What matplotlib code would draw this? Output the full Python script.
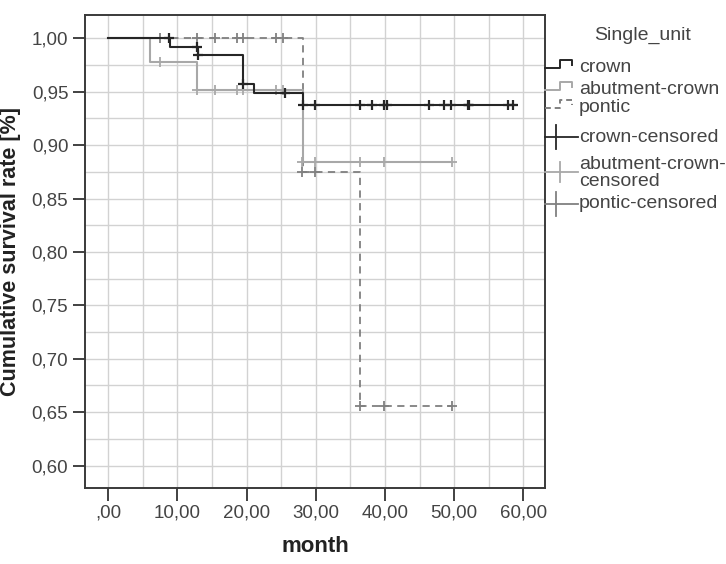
import matplotlib
matplotlib.use("Agg")
import matplotlib.pyplot as plt
from matplotlib.lines import Line2D
import numpy as np

plt.rcParams['font.family'] = ['Liberation Sans', 'DejaVu Sans']

# ---- data ----
crown_t = [0, 8.9, 12.9, 19.5, 21.1, 28.2, 59.0]
crown_s = [1.00, 0.992, 0.984, 0.957, 0.9485, 0.9375, 0.9375]
crown_cens_t = [8.8, 12.8, 13.0, 19.5, 25.5,
                28.1, 29.9, 36.4, 38.1, 39.9, 40.3, 46.4, 48.5, 49.6, 52.0, 52.2, 57.8, 58.5]
crown_cens_s = [1.00, 0.992, 0.984, 0.957, 0.9485,
                0.9375, 0.9375, 0.9375, 0.9375, 0.9375, 0.9375, 0.9375, 0.9375, 0.9375,
                0.9375, 0.9375, 0.9375, 0.9375]

abut_t = [0, 6.05, 12.8, 28.2, 49.7]
abut_s = [1.00, 0.978, 0.952, 0.884, 0.884]
abut_cens_t = [7.5, 12.8, 15.4, 18.6, 19.5, 24.2, 25.3, 28.0, 29.9, 36.4, 39.9, 49.7]
abut_cens_s = [0.978, 0.952, 0.952, 0.952, 0.952, 0.952, 0.952, 0.884, 0.884, 0.884, 0.884, 0.884]

pontic_t = [0, 28.2, 36.4, 49.7]
pontic_s = [1.00, 0.875, 0.656, 0.656]
pontic_cens_t = [7.5, 12.8, 15.4, 18.6, 19.5, 24.2, 25.3, 28.0, 29.9, 36.4, 39.8, 49.7]
pontic_cens_s = [1.00, 1.00, 1.00, 1.00, 1.00, 1.00, 1.00, 0.875, 0.875, 0.656, 0.656, 0.656]

x_ticks = [0, 10, 20, 30, 40, 50, 60]
x_labels = [',00', '10,00', '20,00', '30,00', '40,00', '50,00', '60,00']
y_ticks = [0.60, 0.65, 0.70, 0.75, 0.80, 0.85, 0.90, 0.95, 1.00]
y_labels = ['0,60', '0,65', '0,70', '0,75', '0,80', '0,85', '0,90', '0,95', '1,00']

legend_title = 'Single_unit'
legend_labels = ['crown', 'abutment-crown', 'pontic', 'crown-censored',
                 'abutment-crown-\ncensored', 'pontic-censored']

c_crown = '#262626'
c_abut = '#a8a8a8'
c_pont = '#808080'

W, H = 726, 564
fig = plt.figure(figsize=(W / 100, H / 100), dpi=100)
ax = fig.add_axes([85 / W, 1 - 488 / H, (545 - 85) / W, (488 - 15) / H])

ax.set_xlim(-3.37, 63.13)
ax.set_ylim(0.579, 1.0218)

# grid (every 5 months, every 0.025)
for gx in np.arange(0, 65, 5):
    ax.axvline(gx, color='#d2d2d2', lw=1.0, zorder=0)
for gy in np.arange(0.60, 1.01, 0.025):
    ax.axhline(gy, color='#d2d2d2', lw=1.0, zorder=0)

ax.step(pontic_t, pontic_s, where='post', color=c_pont, lw=1.3, ls=(0, (4, 3)), zorder=3)
ax.step(abut_t, abut_s, where='post', color=c_abut, lw=1.5, zorder=4)
ax.step(crown_t, crown_s, where='post', color=c_crown, lw=1.5, zorder=5)
ax.plot(pontic_cens_t, pontic_cens_s, ls='none', marker='+', ms=7, mew=1.3, color=c_pont, zorder=3)
ax.plot(abut_cens_t, abut_cens_s, ls='none', marker='+', ms=7, mew=1.3, color=c_abut, zorder=4)
ax.plot(crown_cens_t, crown_cens_s, ls='none', marker='+', ms=7, mew=1.6, color=c_crown, zorder=6)

ax.set_xticks(x_ticks)
ax.set_xticklabels(x_labels)
ax.set_yticks(y_ticks)
ax.set_yticklabels(y_labels)
ax.tick_params(which='major', length=9, width=1.3, color='#333333', labelsize=13.5,
               labelcolor='#444444', pad=3)
for s in ax.spines.values():
    s.set_color('#3a3a3a')
    s.set_linewidth(1.4)

ax.set_xlabel('month', fontsize=16, fontweight='bold', color='#222222', labelpad=10)
ax.set_ylabel('Cumulative survival rate [%]', fontsize=15.5, fontweight='bold',
              color='#222222', labelpad=8)

# ---- legend drawn manually in figure pixels ----
def fx(px):
    return px / W

def fy(py):
    return 1 - py / H

fig.text(fx(643), fy(35), legend_title, fontsize=14, color='#444444', ha='center', va='center')

text_x = fx(579)

def step_icon(yc, color, ls='-'):
    xs = [545, 560, 560, 572, 572]
    ys = [yc, yc, yc - 8, yc - 8, yc - 3]
    fig.add_artist(Line2D([fx(v) for v in xs], [fy(v) for v in ys], color=color, lw=1.4,
                          ls=ls, transform=fig.transFigure))

def cross_icon(yc, color, xc=556, hh=12):
    fig.add_artist(Line2D([fx(545), fx(578)], [fy(yc), fy(yc)], color=color, lw=1.3,
                          transform=fig.transFigure))
    fig.add_artist(Line2D([fx(xc), fx(xc)], [fy(yc - hh), fy(yc + hh)], color=color, lw=1.3,
                          transform=fig.transFigure))

step_icon(68, c_crown)
step_icon(90, c_abut)
step_icon(108, c_pont, ls=(0, (3, 2)))
cross_icon(137, c_crown)
cross_icon(172, c_abut, xc=560, hh=10)
cross_icon(204, c_pont)

ys_text = [67, 90, 107, 137, 173, 204]
for lab, yy in zip(legend_labels, ys_text):
    fig.text(text_x, fy(yy), lab, fontsize=14, color='#444444', ha='left', va='center',
             linespacing=0.95)

fig.savefig('out.png', dpi=100)
